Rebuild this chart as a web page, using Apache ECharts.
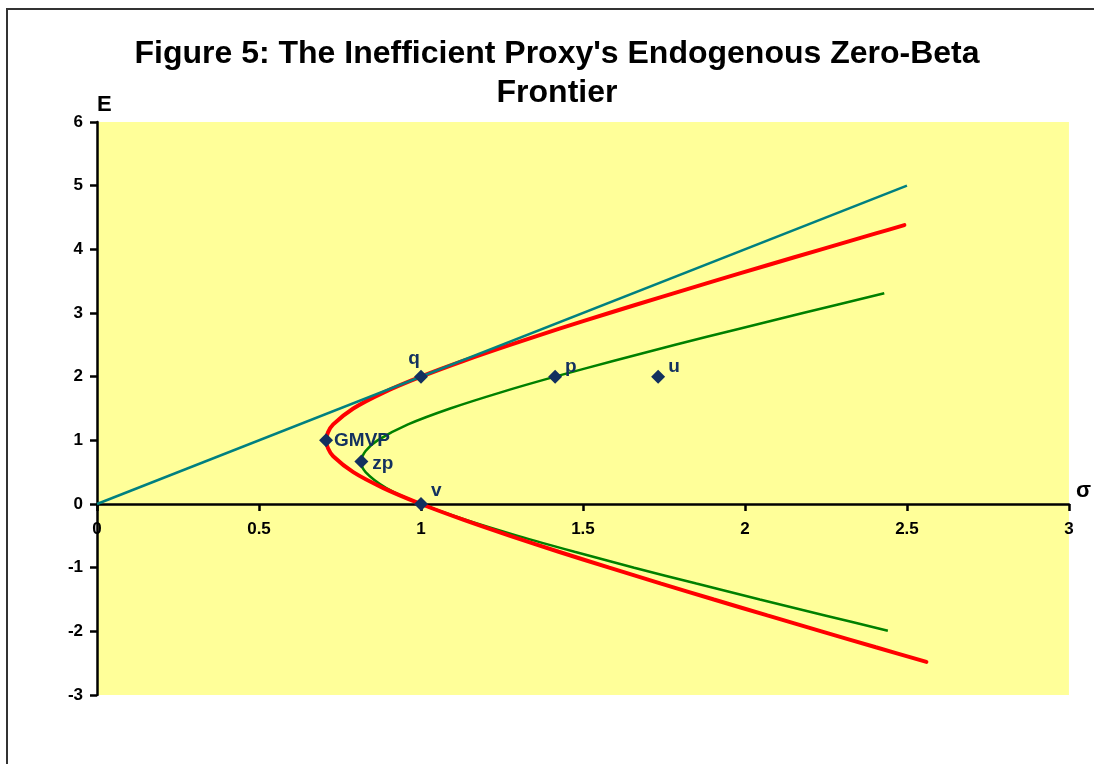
<!DOCTYPE html>
<html>
<head>
<meta charset="utf-8">
<script src="https://cdn.jsdelivr.net/npm/echarts@6/dist/echarts.min.js"></script>
<style>html,body{margin:0;padding:0;background:#fff}#c{width:1094px;height:764px}</style>
</head>
<body>
<div id="c"></div>
<script>
// ---- data ----
const titleText = "Figure 5: The Inefficient Proxy's Endogenous Zero-Beta\nFrontier";
const xTicks = [0, 0.5, 1, 1.5, 2, 2.5, 3];
const yTicks = [-3, -2, -1, 0, 1, 2, 3, 4, 5, 6];

// tangent line (sigma, E)
const tangentSigma = [0, 2.5];
const tangentE = [0, 5];

// efficient (red) frontier (sigma, E)
const redSigma = [2.492, 2.404, 2.236, 2.069, 1.904, 1.741, 1.581, 1.425, 1.275, 1.132, 1.0, 0.884, 0.791, 0.729, 0.713, 0.707, 0.713, 0.729, 0.791, 0.884, 1.0, 1.132, 1.275, 1.425, 1.581, 1.741, 1.904, 2.069, 2.236, 2.404, 2.560];
const redE     = [4.38, 4.25, 4.0, 3.75, 3.5, 3.25, 3.0, 2.75, 2.5, 2.25, 2.0, 1.75, 1.5, 1.25, 1.125, 1.0, 0.875, 0.75, 0.5, 0.25, 0.0, -0.25, -0.5, -0.75, -1.0, -1.25, -1.5, -1.75, -2.0, -2.25, -2.48];

// zero-beta (green) frontier (sigma, E)
const greenSigma = [2.430, 2.179, 1.980, 1.785, 1.596, 1.414, 1.244, 1.090, 0.960, 0.866, 0.829, 0.816, 0.829, 0.893, 1.0, 1.139, 1.299, 1.474, 1.658, 1.850, 2.046, 2.247, 2.441];
const greenE     = [3.31, 3.0, 2.75, 2.5, 2.25, 2.0, 1.75, 1.5, 1.25, 1.0, 0.833, 0.667, 0.5, 0.25, 0.0, -0.25, -0.5, -0.75, -1.0, -1.25, -1.5, -1.75, -1.99];

// labelled points
const pointNames = ["q", "p", "u", "GMVP", "zp", "v"];
const pointSigma = [1.0, 1.414, 1.732, 0.707, 0.816, 1.0];
const pointE     = [2.0, 2.0, 2.0, 1.0, 0.667, 0.0];

// ---- presentation ----
const labelPos = {
  q:    {position: 'top', offset: [-7, 4]},
  p:    {position: 'right', offset: [-2, -10]},
  u:    {position: 'right', offset: [-2, -10]},
  GMVP: {position: 'right', offset: [-4, 0]},
  zp:   {position: 'right', offset: [-1, 2]},
  v:    {position: 'right', offset: [-2, -13]}
};
const zip = (a, b) => a.map((v, i) => [v, b[i]]);
const navy = '#13315F';
const FONT = 'Liberation Sans, Arial, sans-serif';

const chart = echarts.init(document.getElementById('c'), null, {renderer: 'canvas'});
chart.setOption({
  animation: false,
  backgroundColor: '#ffffff',
  title: {
    text: titleText,
    left: 552,
    top: 30,
    textAlign: 'center',
    textStyle: {fontFamily: FONT, fontWeight: 'bold', fontSize: 32, lineHeight: 39, color: '#000'}
  },
  graphic: [{
    type: 'rect', silent: true, z: 100,
    shape: {x: 7, y: 9, width: 1200, height: 900},
    style: {fill: 'none', stroke: '#333333', lineWidth: 2}
  }],
  grid: {left: 97, right: 23, top: 122, bottom: 69, show: true, backgroundColor: '#FFFF99', borderWidth: 0},
  xAxis: {
    type: 'value', min: 0, max: 3, interval: 0.5,
    position: 'bottom', offset: -191,
    name: 'σ', nameLocation: 'end', nameGap: 7,
    nameTextStyle: {fontFamily: FONT, fontWeight: 'bold', fontSize: 22, color: '#000', verticalAlign: 'bottom', padding: [0, 0, 2, 0]},
    axisLine: {onZero: false, lineStyle: {color: '#000', width: 2.5}},
    axisTick: {show: true, inside: false, length: 7, lineStyle: {color: '#000', width: 2.5}},
    axisLabel: {margin: 17, fontFamily: FONT, fontWeight: 'bold', fontSize: 17, color: '#000',
      formatter: v => xTicks.includes(v) ? String(v) : ''},
    splitLine: {show: false}
  },
  yAxis: {
    type: 'value', min: -3, max: 6, interval: 1,
    name: 'E', nameLocation: 'end', nameGap: 6,
    nameTextStyle: {fontFamily: FONT, fontWeight: 'bold', fontSize: 22, color: '#000', align: 'left'},
    axisLine: {onZero: false, lineStyle: {color: '#000', width: 2.5}},
    axisTick: {show: true, inside: false, length: 7, lineStyle: {color: '#000', width: 2.5}},
    axisLabel: {margin: 14, fontFamily: FONT, fontWeight: 'bold', fontSize: 17, color: '#000',
      formatter: v => yTicks.includes(v) ? String(v) : ''},
    splitLine: {show: false}
  },
  series: [
    {
      type: 'line', name: 'zero-beta', data: zip(greenSigma, greenE), smooth: 0.3,
      showSymbol: false, lineStyle: {color: '#008000', width: 2.5}, z: 3
    },
    {
      type: 'line', name: 'frontier', data: zip(redSigma, redE), smooth: 0.3,
      showSymbol: false, lineStyle: {color: '#FF0000', width: 4, cap: 'round'}, z: 4
    },
    {
      type: 'line', name: 'tangent', data: zip(tangentSigma, tangentE),
      showSymbol: false, lineStyle: {color: '#008080', width: 2.5}, z: 5
    },
    {
      type: 'scatter', name: 'points', symbol: 'diamond', symbolSize: 14, z: 10,
      itemStyle: {color: navy, opacity: 1},
      data: pointNames.map((n, i) => ({
        value: [pointSigma[i], pointE[i]],
        label: Object.assign({show: true, formatter: n, fontFamily: FONT, fontWeight: 'bold', fontSize: 19, color: navy}, labelPos[n])
      }))
    }
  ]
});
</script>
</body>
</html>
